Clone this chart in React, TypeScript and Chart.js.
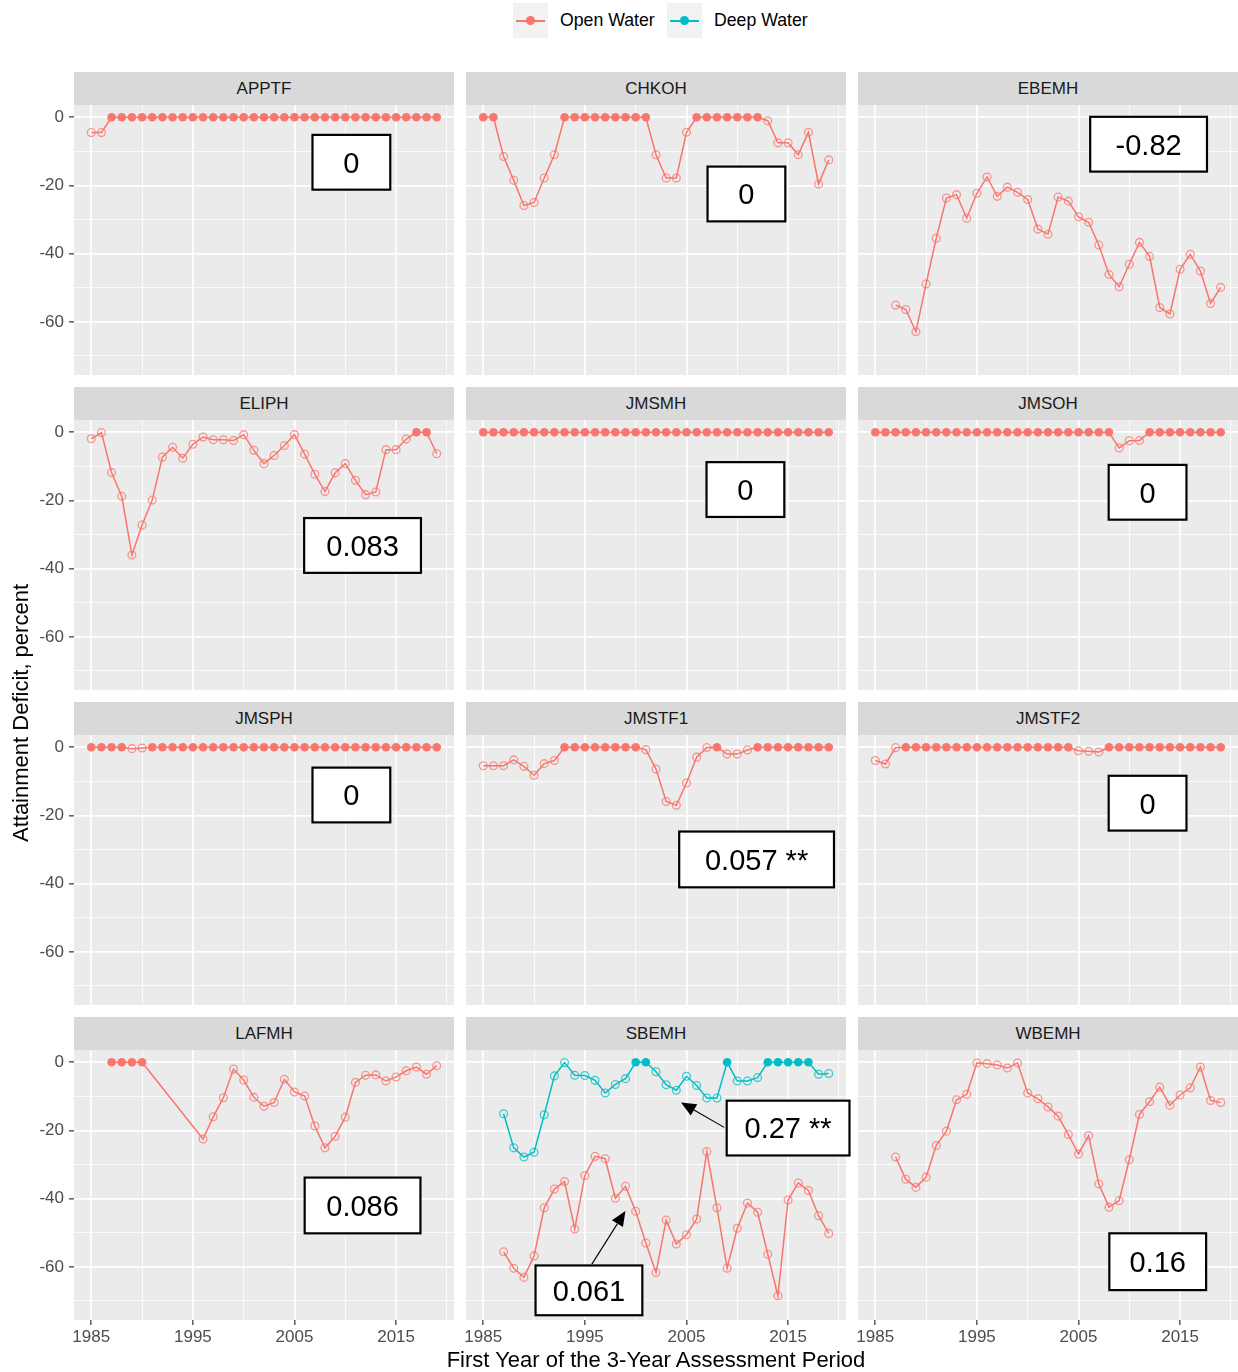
import React, { useEffect, useRef } from "react";
import { Chart, registerables } from "chart.js";

Chart.register(...registerables);

const FONT = '"Liberation Sans", Arial, Helvetica, sans-serif';
const OPEN_COLOR = "#F8766D";
const DEEP_COLOR = "#00BFC4";

// ---------------- data ----------------
const years = [
  1985, 1986, 1987, 1988, 1989, 1990, 1991, 1992, 1993, 1994, 1995, 1996,
  1997, 1998, 1999, 2000, 2001, 2002, 2003, 2004, 2005, 2006, 2007, 2008,
  2009, 2010, 2011, 2012, 2013, 2014, 2015, 2016, 2017, 2018, 2019,
];

const xMajorTicks = [1985, 1995, 2005, 2015];
const xMinorTicks = [1990, 2000, 2010, 2020];
const yMajorTicks = [0, -20, -40, -60];
const yMinorTicks = [-10, -30, -50, -70];

const seriesNames = ["Open Water", "Deep Water"];

const APPTF_open = [
  -4.5, -4.5, 0, 0, 0, 0, 0, 0, 0, 0, 0, 0, 0, 0, 0, 0, 0, 0, 0, 0, 0, 0, 0,
  0, 0, 0, 0, 0, 0, 0, 0, 0, 0, 0, 0,
];
const CHKOH_open = [
  0, 0, -11.5, -18.5, -25.9, -25.0, -17.8, -11.0, 0, 0, 0, 0, 0, 0, 0, 0, 0,
  -11.0, -17.8, -17.8, -4.4, 0, 0, 0, 0, 0, 0, 0, -1.0, -7.5, -7.5, -11.0,
  -4.4, -19.6, -12.5,
];
const EBEMH_open = [
  null, null, -55.1, -56.4, -62.9, -48.9, -35.5, -23.7, -22.7, -29.6, -22.3,
  -17.5, -23.2, -20.5, -22.0, -24.1, -32.8, -34.3, -23.4, -24.6, -29.2, -30.8,
  -37.5, -46.1, -49.7, -43.1, -36.7, -40.8, -55.8, -57.7, -44.6, -40.2, -45.1,
  -54.6, -49.9,
];
const ELIPH_open = [
  -1.9, -0.1, -11.8, -18.8, -36.0, -27.2, -19.9, -7.3, -4.4, -7.6, -3.5, -1.4,
  -2.2, -2.2, -2.4, -0.7, -5.3, -9.2, -6.8, -3.9, -0.7, -6.4, -12.3, -17.4,
  -11.9, -9.2, -14.1, -18.3, -17.5, -5.1, -5.1, -2.0, 0, 0, -6.3,
];
const JMSMH_open = [
  0, 0, 0, 0, 0, 0, 0, 0, 0, 0, 0, 0, 0, 0, 0, 0, 0, 0, 0, 0, 0, 0, 0, 0, 0,
  0, 0, 0, 0, 0, 0, 0, 0, 0, 0,
];
const JMSOH_open = [
  0, 0, 0, 0, 0, 0, 0, 0, 0, 0, 0, 0, 0, 0, 0, 0, 0, 0, 0, 0, 0, 0, 0, 0,
  -4.6, -2.5, -2.4, 0, 0, 0, 0, 0, 0, 0, 0,
];
const JMSPH_open = [
  0, 0, 0, 0, -0.4, -0.2, 0, 0, 0, 0, 0, 0, 0, 0, 0, 0, 0, 0, 0, 0, 0, 0, 0,
  0, 0, 0, 0, 0, 0, 0, 0, 0, 0, 0, 0,
];
const JMSTF1_open = [
  -5.4, -5.4, -5.4, -3.7, -5.6, -8.2, -4.8, -3.9, 0, 0, 0, 0, 0, 0, 0, 0,
  -0.7, -6.4, -15.9, -17.0, -10.5, -2.9, -0.1, 0, -2.0, -2.0, -0.8, 0, 0, 0,
  0, 0, 0, 0, 0,
];
const JMSTF2_open = [
  -3.9, -4.9, -0.1, 0, 0, 0, 0, 0, 0, 0, 0, 0, 0, 0, 0, 0, 0, 0, 0, 0, -1.0,
  -1.2, -1.4, 0, 0, 0, 0, 0, 0, 0, 0, 0, 0, 0, 0,
];
const LAFMH_open = [
  null, null, 0, 0, 0, 0, null, null, null, null, null, -22.5, -16.0, -10.4,
  -2.0, -5.2, -10.3, -12.9, -11.8, -5.0, -8.7, -9.9, -18.7, -25.1, -21.7,
  -16.1, -5.9, -3.8, -3.7, -5.5, -4.3, -2.5, -1.4, -3.5, -1.0,
];
const SBEMH_open = [
  null, null, -55.6, -60.4, -63.1, -56.8, -42.7, -37.2, -35.0, -48.9, -33.2,
  -27.6, -28.3, -39.9, -36.4, -43.7, -53.0, -61.7, -46.3, -53.3, -50.6, -46.0,
  -26.2, -42.7, -60.4, -48.7, -41.3, -44.0, -56.3, -68.5, -40.4, -35.4, -37.6,
  -45.0, -50.2,
];
const SBEMH_deep = [
  null, null, -15.1, -25.1, -27.8, -26.4, -15.4, -4.0, -0.1, -3.8, -3.9, -5.3,
  -9.0, -6.5, -4.8, 0, 0, -2.8, -6.6, -8.2, -4.1, -6.8, -10.5, -10.5, 0, -5.5,
  -5.5, -4.5, 0, 0, 0, 0, 0, -3.5, -3.3,
];
const WBEMH_open = [
  null, null, -27.8, -34.3, -36.7, -33.7, -24.4, -20.2, -11.0, -9.4, -0.2,
  -0.4, -0.8, -1.7, -0.2, -9.0, -10.7, -13.1, -15.8, -21.2, -26.9, -21.5,
  -35.7, -42.5, -40.6, -28.6, -15.3, -11.5, -7.3, -12.6, -9.6, -7.5, -1.4,
  -11.2, -11.8,
];

// ---------------- panel definitions ----------------
type SeriesDef = { label: string; color: string; values: (number | null)[] };
type Arrow = { x0: number; y0: number; x1: number; y1: number };
type Note = { text: string; x: number; y: number; w: number; h: number; arrow?: Arrow };
type PanelDef = { name: string; series: SeriesDef[]; notes: Note[] };

const open = (values: (number | null)[]): SeriesDef => ({
  label: seriesNames[0],
  color: OPEN_COLOR,
  values,
});
const deep = (values: (number | null)[]): SeriesDef => ({
  label: seriesNames[1],
  color: DEEP_COLOR,
  values,
});

const panels: PanelDef[] = [
  { name: "APPTF", series: [open(APPTF_open)], notes: [{ text: "0", x: 2010.6, y: -13.2, w: 80, h: 57 }] },
  { name: "CHKOH", series: [open(CHKOH_open)], notes: [{ text: "0", x: 2010.9, y: -22.5, w: 80, h: 57 }] },
  { name: "EBEMH", series: [open(EBEMH_open)], notes: [{ text: "-0.82", x: 2011.9, y: -7.9, w: 119, h: 57 }] },
  { name: "ELIPH", series: [open(ELIPH_open)], notes: [{ text: "0.083", x: 2011.7, y: -33.2, w: 119, h: 57 }] },
  { name: "JMSMH", series: [open(JMSMH_open)], notes: [{ text: "0", x: 2010.8, y: -16.8, w: 80, h: 57 }] },
  { name: "JMSOH", series: [open(JMSOH_open)], notes: [{ text: "0", x: 2011.8, y: -17.6, w: 80, h: 57 }] },
  { name: "JMSPH", series: [open(JMSPH_open)], notes: [{ text: "0", x: 2010.6, y: -14.0, w: 80, h: 57 }] },
  { name: "JMSTF1", series: [open(JMSTF1_open)], notes: [{ text: "0.057 **", x: 2011.9, y: -32.9, w: 157, h: 58 }] },
  { name: "JMSTF2", series: [open(JMSTF2_open)], notes: [{ text: "0", x: 2011.8, y: -16.4, w: 80, h: 57 }] },
  { name: "LAFMH", series: [open(LAFMH_open)], notes: [{ text: "0.086", x: 2011.7, y: -42.0, w: 118, h: 58 }] },
  {
    name: "SBEMH",
    series: [open(SBEMH_open), deep(SBEMH_deep)],
    notes: [
      { text: "0.27 **", x: 2015.0, y: -19.3, w: 125, h: 57, arrow: { x0: 2008.71, y0: -19.1, x1: 2004.46, y1: -11.8 } },
      { text: "0.061", x: 1995.4, y: -66.9, w: 109, h: 52, arrow: { x0: 1995.63, y0: -59.5, x1: 1998.99, y1: -43.6 } },
    ],
  },
  { name: "WBEMH", series: [open(WBEMH_open)], notes: [{ text: "0.16", x: 2012.8, y: -58.5, w: 99, h: 59 }] },
];

// ---------------- layout ----------------
const COL_LEFT = [74, 466, 858];
const PLOT_TOP = [105, 420, 735, 1050];
const PLOT_W = 380;
const PLOT_H = 270;
const STRIP_H = 33;
const Y_AXIS_W = 74;
const X_AXIS_H = 34;
const PAD_RIGHT = 12;

function rgba(hex: string, a: number) {
  const n = parseInt(hex.slice(1), 16);
  return `rgba(${(n >> 16) & 255},${(n >> 8) & 255},${n & 255},${a})`;
}

function Panel({ idx }: { idx: number }) {
  const ref = useRef<HTMLCanvasElement | null>(null);
  const row = Math.floor(idx / 3);
  const col = idx % 3;
  const p = panels[idx];
  const showY = col === 0;
  const showX = row === 3;

  useEffect(() => {
    if (!ref.current) return;
    const decor = {
      id: "panelDecor",
      beforeDraw(chart: any) {
        const { ctx, chartArea: a } = chart;
        ctx.save();
        ctx.fillStyle = "#EBEBEB";
        ctx.fillRect(a.left, a.top, a.right - a.left, a.bottom - a.top);
        ctx.restore();
      },
      afterDraw(chart: any) {
        const { ctx } = chart;
        const xs = chart.scales.x;
        const ys = chart.scales.y;
        ctx.save();
        for (const n of p.notes) {
          if (n.arrow) {
            const x0 = xs.getPixelForValue(n.arrow.x0);
            const y0 = ys.getPixelForValue(n.arrow.y0);
            const x1 = xs.getPixelForValue(n.arrow.x1);
            const y1 = ys.getPixelForValue(n.arrow.y1);
            const ang = Math.atan2(y1 - y0, x1 - x0);
            const hl = 15;
            const hw = 6.5;
            const bx = x1 - hl * Math.cos(ang);
            const by = y1 - hl * Math.sin(ang);
            ctx.strokeStyle = "#000";
            ctx.lineWidth = 1.1;
            ctx.beginPath();
            ctx.moveTo(x0, y0);
            ctx.lineTo(bx, by);
            ctx.stroke();
            ctx.fillStyle = "#000";
            ctx.beginPath();
            ctx.moveTo(x1, y1);
            ctx.lineTo(bx + hw * Math.sin(ang), by - hw * Math.cos(ang));
            ctx.lineTo(bx - hw * Math.sin(ang), by + hw * Math.cos(ang));
            ctx.closePath();
            ctx.fill();
          }
        }
        for (const n of p.notes) {
          const cx = xs.getPixelForValue(n.x);
          const cy = ys.getPixelForValue(n.y);
          const left = cx - n.w / 2;
          const top = cy - n.h / 2;
          ctx.fillStyle = "#FFFFFF";
          ctx.fillRect(left, top, n.w, n.h);
          ctx.strokeStyle = "#000";
          ctx.lineWidth = 2.2;
          ctx.strokeRect(left + 1.1, top + 1.1, n.w - 2.2, n.h - 2.2);
          ctx.fillStyle = "#000";
          ctx.font = `29px ${FONT}`;
          ctx.textAlign = "center";
          ctx.textBaseline = "alphabetic";
          ctx.fillText(n.text, cx, cy + 10.4);
        }
        ctx.restore();
      },
    };

    const isFilled = (c: any) => c.raw && c.raw.y === 0;

    const chart = new Chart(ref.current, {
      type: "line",
      data: {
        datasets: p.series.map((s) => ({
          label: s.label,
          data: years
            .map((yr, i) => ({ x: yr, y: s.values[i] }))
            .filter((d) => d.y !== null) as any,
          borderColor: s.color,
          backgroundColor: s.color,
          borderWidth: 1.5,
          tension: 0,
          spanGaps: true,
          fill: false,
          pointRadius: (c: any) => (isFilled(c) ? 4.3 : 3.9),
          pointHoverRadius: (c: any) => (isFilled(c) ? 4.3 : 3.9),
          pointBackgroundColor: (c: any) => (isFilled(c) ? s.color : "rgba(0,0,0,0)"),
          pointBorderColor: (c: any) => (isFilled(c) ? s.color : rgba(s.color, 0.75)),
          pointBorderWidth: (c: any) => (isFilled(c) ? 0 : 1.3),
        })),
      },
      options: {
        responsive: false,
        animation: false,
        events: [],
        layout: { autoPadding: false, padding: { left: 0, top: 0, bottom: 0, right: PAD_RIGHT } },
        plugins: { legend: { display: false }, tooltip: { enabled: false } },
        scales: {
          x: {
            type: "linear",
            min: 1983.3,
            max: 2020.7,
            afterBuildTicks: (s: any) => {
              s.ticks = [...xMajorTicks, ...xMinorTicks]
                .sort((a, b) => a - b)
                .map((v) => ({ value: v }));
            },
            afterFit: (s: any) => {
              s.height = X_AXIS_H;
              s.paddingLeft = 0;
              s.paddingRight = 0;
              s.paddingTop = 0;
              s.paddingBottom = 0;
            },
            border: { display: false },
            grid: {
              color: "#FFFFFF",
              lineWidth: (c: any) => (c.tick && xMajorTicks.includes(c.tick.value) ? 1.7 : 0.8),
              drawTicks: showX,
              tickLength: 5,
              tickWidth: 1.2,
              tickColor: (c: any) =>
                c.tick && xMajorTicks.includes(c.tick.value) ? "#333333" : "rgba(0,0,0,0)",
            },
            ticks: {
              display: showX,
              autoSkip: false,
              maxRotation: 0,
              minRotation: 0,
              padding: 2,
              color: "#4D4D4D",
              font: { family: FONT, size: 17 },
              callback: (v: any) => (xMajorTicks.includes(Number(v)) ? String(v) : ""),
            },
          },
          y: {
            type: "linear",
            min: -75.6,
            max: 3.6,
            afterBuildTicks: (s: any) => {
              s.ticks = [...yMajorTicks, ...yMinorTicks]
                .sort((a, b) => a - b)
                .map((v) => ({ value: v }));
            },
            afterFit: (s: any) => {
              s.width = Y_AXIS_W;
              s.paddingLeft = 0;
              s.paddingRight = 0;
              s.paddingTop = 0;
              s.paddingBottom = 0;
            },
            border: { display: false },
            grid: {
              color: "#FFFFFF",
              lineWidth: (c: any) => (c.tick && yMajorTicks.includes(c.tick.value) ? 1.7 : 0.8),
              drawTicks: showY,
              tickLength: 5,
              tickWidth: 1.2,
              tickColor: (c: any) =>
                c.tick && yMajorTicks.includes(c.tick.value) ? "#333333" : "rgba(0,0,0,0)",
            },
            ticks: {
              display: showY,
              autoSkip: false,
              padding: 5,
              color: "#4D4D4D",
              font: { family: FONT, size: 17 },
              callback: (v: any) => (yMajorTicks.includes(Number(v)) ? String(v) : ""),
            },
          },
        },
      } as any,
      plugins: [decor as any],
    });
    return () => chart.destroy();
  }, []);

  const w = Y_AXIS_W + PLOT_W + PAD_RIGHT;
  const h = PLOT_H + X_AXIS_H;
  return (
    <>
      <div
        style={{
          position: "absolute",
          left: COL_LEFT[col],
          top: PLOT_TOP[row] - STRIP_H,
          width: PLOT_W,
          height: STRIP_H,
          background: "#D9D9D9",
          color: "#1A1A1A",
          fontFamily: FONT,
          fontSize: 17,
          lineHeight: `${STRIP_H}px`,
          textAlign: "center",
        }}
      >
        {p.name}
      </div>
      <canvas
        ref={ref}
        width={w}
        height={h}
        style={{
          position: "absolute",
          left: COL_LEFT[col] - Y_AXIS_W,
          top: PLOT_TOP[row],
          width: w,
          height: h,
        }}
      />
    </>
  );
}

function LegendKey({ left, color }: { left: number; color: string }) {
  return (
    <div
      style={{
        position: "absolute",
        left,
        top: 3,
        width: 35,
        height: 35,
        background: "#F2F2F2",
      }}
    >
      <div
        style={{
          position: "absolute",
          left: 3,
          top: 16.5,
          width: 29,
          height: 2,
          background: color,
        }}
      />
      <div
        style={{
          position: "absolute",
          left: 13,
          top: 13,
          width: 9,
          height: 9,
          borderRadius: "50%",
          background: color,
        }}
      />
    </div>
  );
}

export default function App() {
  return (
    <div
      style={{
        position: "absolute",
        left: 0,
        top: 0,
        width: 1238,
        height: 1372,
        background: "#FFFFFF",
        overflow: "hidden",
        fontFamily: FONT,
      }}
    >
      <LegendKey left={513} color={OPEN_COLOR} />
      <div
        style={{
          position: "absolute",
          left: 560,
          top: 3,
          height: 35,
          lineHeight: "35px",
          fontSize: 17.7,
          color: "#000",
          whiteSpace: "nowrap",
        }}
      >
        {seriesNames[0]}
      </div>
      <LegendKey left={667} color={DEEP_COLOR} />
      <div
        style={{
          position: "absolute",
          left: 714,
          top: 3,
          height: 35,
          lineHeight: "35px",
          fontSize: 17.7,
          color: "#000",
          whiteSpace: "nowrap",
        }}
      >
        {seriesNames[1]}
      </div>

      {panels.map((_, i) => (
        <Panel key={i} idx={i} />
      ))}

      <div
        style={{
          position: "absolute",
          left: 21 - 250,
          top: 713 - 14,
          width: 500,
          height: 28,
          lineHeight: "28px",
          textAlign: "center",
          fontSize: 22,
          color: "#000",
          transform: "rotate(-90deg)",
          transformOrigin: "50% 50%",
          whiteSpace: "nowrap",
        }}
      >
        Attainment Deficit, percent
      </div>
      <div
        style={{
          position: "absolute",
          left: 656 - 300,
          top: 1346,
          width: 600,
          height: 28,
          lineHeight: "28px",
          textAlign: "center",
          fontSize: 22,
          color: "#000",
          whiteSpace: "nowrap",
        }}
      >
        First Year of the 3-Year Assessment Period
      </div>
    </div>
  );
}
